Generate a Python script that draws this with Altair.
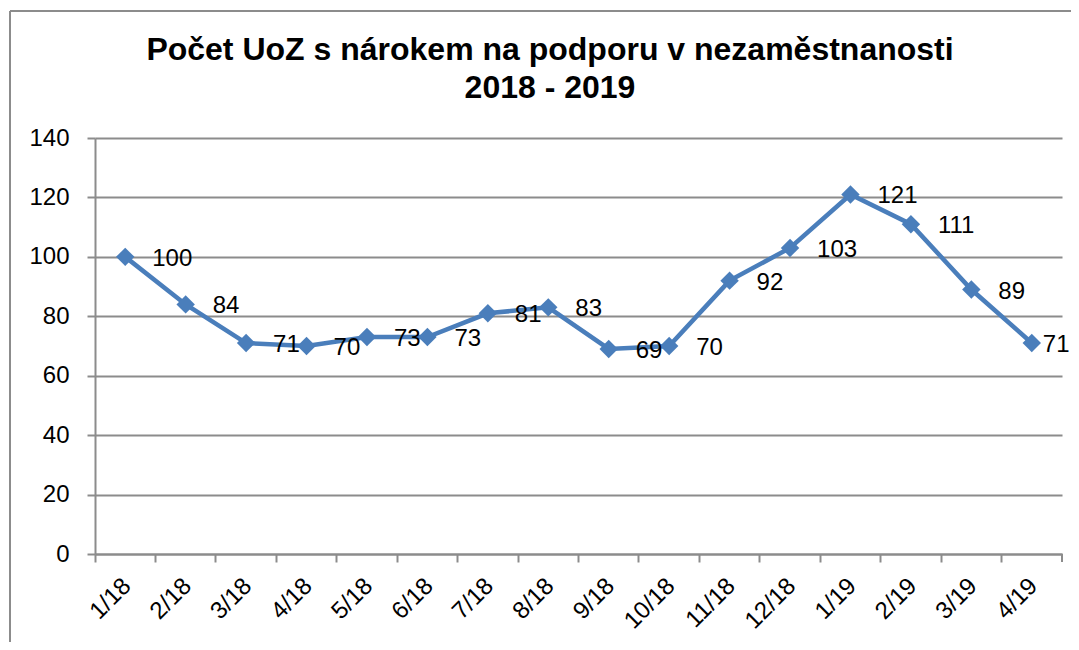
import altair as alt
import pandas as pd

months = ["1/18", "2/18", "3/18", "4/18", "5/18", "6/18", "7/18", "8/18",
          "9/18", "10/18", "11/18", "12/18", "1/19", "2/19", "3/19", "4/19"]
values = [100, 84, 71, 70, 73, 73, 81, 83, 69, 70, 92, 103, 121, 111, 89, 71]
y_ticks = [0, 20, 40, 60, 80, 100, 120, 140]
title_lines = ["Počet UoZ s nárokem na podporu v nezaměstnanosti", "2018 - 2019"]

df = pd.DataFrame({"m": months, "v": values, "last": [i == len(months) - 1 for i in range(len(months))]})

FONT = "Liberation Sans"
GRAY = "#8c8c8c"
BLUE = "#4a7ebb"
W, H = 967, 416

x = alt.X("m:N", sort=months, bandPosition=0.5,
          scale=alt.Scale(type="band", paddingInner=0, paddingOuter=0),
          axis=alt.Axis(title=None, bandPosition=0, labelAngle=-45, labelAlign="right",
                        labelBaseline="middle", labelOffset=2, labelPadding=20,
                        labelFontSize=24, labelFont=FONT, labelColor="black",
                        tickSize=8, tickColor=GRAY, tickWidth=2,
                        domainColor=GRAY, domainWidth=2, grid=False))
y = alt.Y("v:Q", scale=alt.Scale(domain=[0, 140], nice=False),
          axis=alt.Axis(title=None, values=y_ticks, labelFontSize=24, labelFont=FONT,
                        labelColor="black", labelPadding=18, tickSize=8,
                        tickColor=GRAY, tickWidth=2, domainColor=GRAY, domainWidth=2,
                        gridColor=GRAY, gridWidth=2))

base = alt.Chart(df).encode(x=x, y=y)
line = base.mark_line(color=BLUE, strokeWidth=4.5)
pts = base.mark_point(shape="diamond", filled=True, size=340, color=BLUE, opacity=1)
labels = base.transform_filter("!datum.last").mark_text(
    align="left", baseline="middle", dx=27, dy=2,
    fontSize=24, font=FONT, color="black").encode(text="v:Q")
last_label = base.transform_filter("datum.last").mark_text(
    align="left", baseline="middle", dx=11, dy=2,
    fontSize=24, font=FONT, color="black").encode(text="v:Q")

title_df = pd.DataFrame({"t": title_lines, "i": [0, 1]})
title1 = alt.Chart(title_df).transform_filter("datum.i == 0").mark_text(
    fontSize=32, font=FONT, fontWeight="bold", color="black",
    align="center", baseline="middle").encode(
    text="t:N", x=alt.value(455), y=alt.value(-88))
title2 = alt.Chart(title_df).transform_filter("datum.i == 1").mark_text(
    fontSize=32, font=FONT, fontWeight="bold", color="black",
    align="center", baseline="middle").encode(
    text="t:N", x=alt.value(455), y=alt.value(-50))

end_tick = alt.Chart(df).mark_rule(color=GRAY, strokeWidth=2).encode(
    x=alt.value(W), y=alt.value(H), y2=alt.value(H + 8))
frame_top = alt.Chart(df).mark_rule(color=GRAY, strokeWidth=2).encode(
    x=alt.value(-85), x2=alt.value(W + 30), y=alt.value(-127))
frame_left = alt.Chart(df).mark_rule(color=GRAY, strokeWidth=2).encode(
    x=alt.value(-85), y=alt.value(-127), y2=alt.value(H + 100))

chart = alt.layer(frame_top, frame_left, end_tick, line, pts, labels, last_label,
                  title1, title2).properties(
    width=W, height=H,
    autosize=alt.AutoSizeParams(type="none"),
    padding={"left": 87, "top": 130, "right": 9, "bottom": 88},
).configure_view(stroke=None)

chart.save("out.html", embed_options={"renderer": "svg", "actions": False})
